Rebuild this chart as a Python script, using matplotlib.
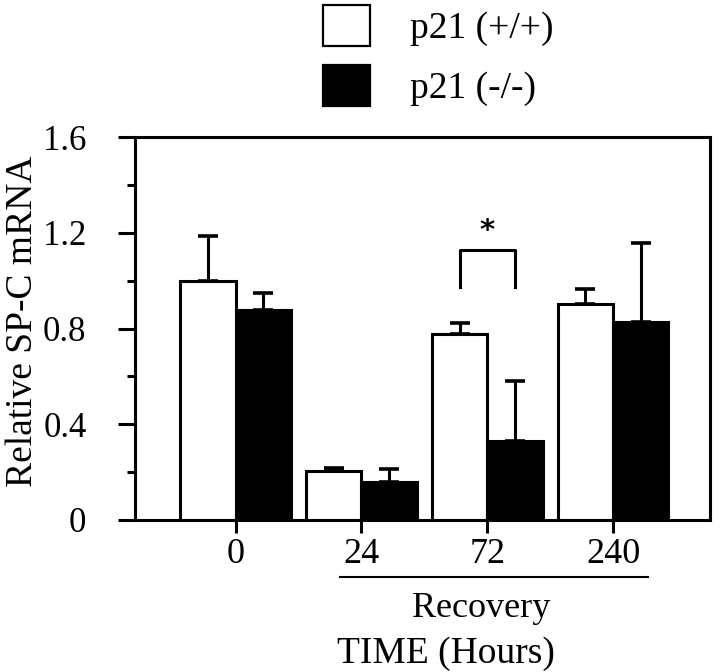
import numpy as np
import matplotlib
matplotlib.use('Agg')
import matplotlib.pyplot as plt
from matplotlib.ticker import MultipleLocator
from matplotlib.patches import Patch
import matplotlib.transforms as mtransforms

plt.rcParams['font.family'] = ['Liberation Serif', 'DejaVu Serif']

# data
time_labels = ['0', '24', '72', '240']
wt_mean = [1.00, 0.206, 0.777, 0.902]
wt_err = [0.186, 0.012, 0.045, 0.063]
ko_mean = [0.877, 0.157, 0.331, 0.826]
ko_err = [0.073, 0.056, 0.251, 0.330]
series_names = ['p21 (+/+)', 'p21 (-/-)']

# significance bracket at 72 h
sig_group = 2
sig_low, sig_high = 0.975, 1.13

x = np.arange(len(time_labels))
w = 0.44
lw = 2.2

fig = plt.figure(figsize=(7.2, 6.72), dpi=100)
ax = fig.add_axes([135/720, 152/672, 575/720, 383/672])

ax.bar(x - w/2, wt_mean, w, color='white', edgecolor='black', linewidth=lw, zorder=2)
ax.bar(x + w/2, ko_mean, w, color='black', edgecolor='black', linewidth=lw, zorder=2)
zeros = np.zeros(len(x))
ax.errorbar(x - w/2, wt_mean, yerr=[zeros, wt_err], fmt='none', ecolor='black',
            elinewidth=lw, capsize=7, capthick=2.6, zorder=3)
ax.errorbar(x + w/2, ko_mean, yerr=[zeros, ko_err], fmt='none', ecolor='black',
            elinewidth=lw, capsize=7, capthick=2.6, zorder=3)

# bracket + star
bx0, bx1 = sig_group - w/2, sig_group + w/2
ax.plot([bx0, bx0, bx1, bx1], [sig_low, sig_high, sig_high, sig_low], color='black', lw=lw)
ax.text(sig_group, sig_high + 0.02, '*', ha='center', va='bottom', fontsize=21,
        fontweight='bold', family='DejaVu Sans')

ax.set_xlim(-0.8, 3.77)
ax.set_ylim(0, 1.6)
ax.set_xticks(x)
ax.set_xticklabels(time_labels, fontsize=26)
ax.set_yticks([0, 0.4, 0.8, 1.2, 1.6])
ax.set_yticklabels(['0', '0.4', '0.8', '1.2', '1.6'], fontsize=25)
ax.yaxis.set_minor_locator(MultipleLocator(0.2))
ax.tick_params(axis='y', which='major', direction='out', length=12, width=lw, pad=23)
ax.tick_params(axis='y', which='minor', direction='out', length=6, width=lw)
ax.tick_params(axis='x', which='major', direction='out', length=9, width=lw, pad=4)
for s in ax.spines.values():
    s.set_linewidth(lw)

ax.set_ylabel('Relative SP-C mRNA', fontsize=27)
ax.yaxis.set_label_coords(-0.165, 0.52)

# recovery underline and labels
trans = mtransforms.blended_transform_factory(ax.transData, ax.transAxes)
ax.plot([1 - 0.17, 3 + 0.28], [-0.148, -0.148], transform=trans, color='black',
        lw=1.5, clip_on=False)
ax.text(1.95, -0.253, 'Recovery', transform=trans, ha='center', va='baseline', fontsize=26)
ax.text(1.67, -0.373, 'TIME (Hours)', transform=trans, ha='center', va='baseline', fontsize=27)

handles = [Patch(facecolor='white', edgecolor='black', linewidth=1.6),
           Patch(facecolor='black', edgecolor='black', linewidth=1.6)]
fig.legend(handles, series_names, loc='upper left', bbox_to_anchor=(323/720, 1 - 5/672),
           frameon=False, fontsize=27, handlelength=1.25, handleheight=1.3,
           handletextpad=1.08, labelspacing=0.5, borderpad=0, borderaxespad=0)

fig.savefig('out.png', dpi=100)
